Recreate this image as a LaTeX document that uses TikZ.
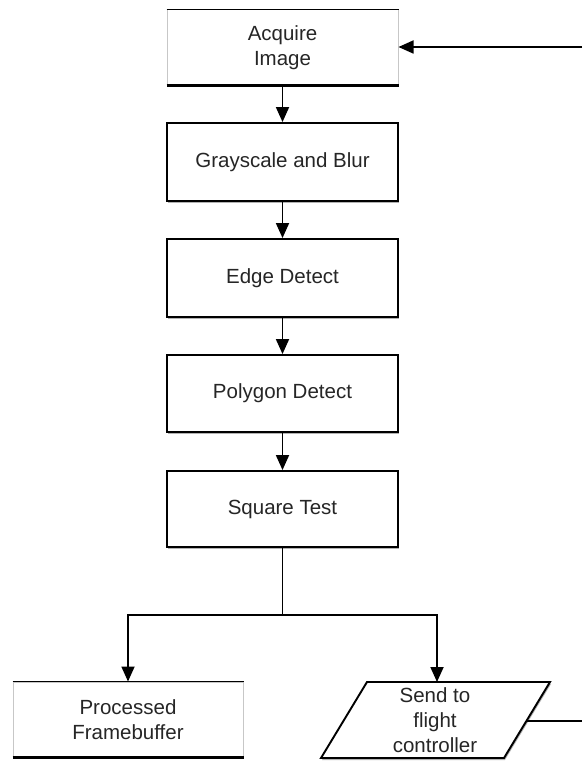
\documentclass[tikz,border=0pt]{standalone}
\usepackage{fontspec}
\setmainfont{Liberation Sans}
\usetikzlibrary{arrows.meta,shadows}
\begin{document}
\begin{tikzpicture}[x=1pt,y=-1pt,
  flow/.style={line width=1.8pt, -{Triangle[width=13pt,length=15pt]}},
  wire/.style={line width=1.8pt},
  label/.style={font=\fontsize{20.5}{25}\selectfont, text=black!85, align=center},
  softshadow/.style={drop shadow={shadow xshift=1pt, shadow yshift=-2pt, opacity=0.3, fill=black}},
  stepbox/.style={label, draw, line width=1.9pt, fill=white, minimum width=231pt,
    inner sep=0pt, softshadow},
  termbox/.style={label, draw=black!22, line width=1pt, fill=white, minimum width=231pt,
    inner sep=0pt, softshadow},
  toprule/.style={line width=1.5pt},
  botrule/.style={line width=2.4pt}
]
\useasboundingbox (0,0) rectangle (582,762);

% processing chain
\node[termbox, minimum height=75pt] (acq)  at (282.5,47.5) {Acquire\\Image};
\node[stepbox, minimum height=78pt] (gray) at (282.5,162)  {Grayscale and Blur};
\node[stepbox, minimum height=78pt] (edge) at (282.5,278)  {Edge Detect};
\node[stepbox, minimum height=77pt] (poly) at (282.5,393.5){Polygon Detect};
\node[stepbox, minimum height=76pt] (sq)   at (282.5,509)  {Square Test};

% outputs
\node[termbox, minimum width=230pt, minimum height=75pt] (proc) at (128,719.5) {Processed\\Framebuffer};

% parallelogram output
\coordinate (sbl) at (321,758);
\coordinate (stl) at (367,682);
\coordinate (str) at (550,682);
\coordinate (sbr) at (504,758);
\fill[white, softshadow] (sbl) -- (stl) -- (str) -- (sbr) -- cycle;
\draw[line width=1.9pt, line join=miter] (sbl) -- (stl) -- (str) -- (sbr) -- cycle;
\node[label, inner sep=0pt] (send) at (435,720) {Send to\\flight\\controller};
\coordinate (sendtop) at (437,682);
\coordinate (sendright) at (526,721);

% rules on terminal boxes
\foreach \b in {acq,proc}{
  \draw[toprule] (\b.north west) -- (\b.north east);
  \draw[botrule] (\b.south west) -- (\b.south east);
}

% connectors
\draw[flow] (acq) -- (gray);
\draw[flow] (gray) -- (edge);
\draw[flow] (edge) -- (poly);
\draw[flow] (poly) -- (sq);

\coordinate (split) at (282.5,615);
\coordinate (loopin) at (582,47);
\coordinate (loopout) at (582,721);
\draw[wire] (sq.south) -- (split);
\draw[flow] (split) -| (proc.north);
\draw[flow] (split) -| (sendtop);
\draw[wire] (sendright) -- (loopout);
\draw[flow] (loopin) -- (acq.east |- loopin);
\end{tikzpicture}
\end{document}
